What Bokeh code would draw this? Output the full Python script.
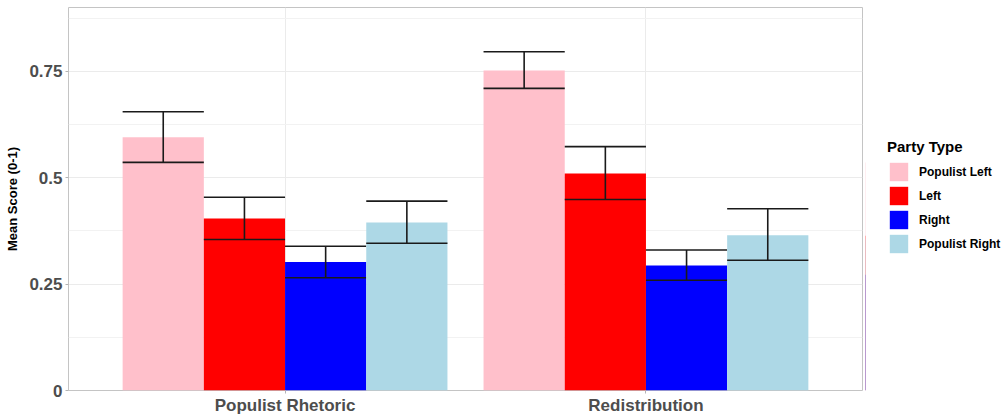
from bokeh.plotting import figure
from bokeh.layouts import row
from bokeh.models import Range1d, FixedTicker, Legend, LegendItem, ColumnDataSource
from bokeh.embed import file_html
from bokeh.resources import INLINE

# ---- data ----
categories = ["Populist Rhetoric", "Redistribution"]
parties = ["Populist Left", "Left", "Right", "Populist Right"]
colors = ["#FFC0CB", "#FF0000", "#0000FF", "#ADD8E6"]
means = {
    "Populist Left":  [0.595, 0.752],
    "Left":           [0.404, 0.510],
    "Right":          [0.302, 0.294],
    "Populist Right": [0.395, 0.365],
}
lower = {
    "Populist Left":  [0.536, 0.710],
    "Left":           [0.355, 0.449],
    "Right":          [0.265, 0.259],
    "Populist Right": [0.346, 0.306],
}
upper = {
    "Populist Left":  [0.655, 0.796],
    "Left":           [0.454, 0.573],
    "Right":          [0.339, 0.330],
    "Populist Right": [0.445, 0.427],
}
y_ticks = [0, 0.25, 0.5, 0.75]
y_tick_labels = ["0", "0.25", "0.5", "0.75"]

FONT = "Liberation Sans"
bar_w = 0.9 / len(parties)

p = figure(width=865, height=417, output_backend="svg", toolbar_location=None,
           x_range=Range1d(0.4, 2.6), y_range=Range1d(0, 0.9),
           min_border_left=68, min_border_top=7, min_border_bottom=26, min_border_right=3)
p.background_fill_color = "white"
p.border_fill_color = "white"
p.outline_line_color = "#C4C4C4"
p.outline_line_width = 1

for j, party in enumerate(parties):
    xs = [i + 1 + (j - (len(parties) - 1) / 2) * bar_w for i in range(len(categories))]
    src = ColumnDataSource(dict(x=xs, top=means[party], lo=lower[party], hi=upper[party],
                                x0=[x - bar_w / 2 for x in xs], x1=[x + bar_w / 2 for x in xs]))
    p.vbar(x="x", top="top", bottom=0, width=bar_w, source=src,
           fill_color=colors[j], line_color=None)
    p.segment(x0="x", y0="lo", x1="x", y1="hi", source=src, line_color="#1a1a1a", line_width=1.6)
    p.segment(x0="x0", y0="lo", x1="x1", y1="lo", source=src, line_color="#1a1a1a", line_width=1.6)
    p.segment(x0="x0", y0="hi", x1="x1", y1="hi", source=src, line_color="#1a1a1a", line_width=1.6)

# axes
p.xaxis.ticker = FixedTicker(ticks=[i + 1 for i in range(len(categories))])
p.xaxis.major_label_overrides = {i + 1: c for i, c in enumerate(categories)}
p.yaxis.ticker = FixedTicker(ticks=y_ticks,
                             minor_ticks=[0.125, 0.375, 0.625, 0.875])
p.yaxis.major_label_overrides = dict(zip(y_ticks, y_tick_labels))

for ax in (p.xaxis[0], p.yaxis[0]):
    ax.axis_line_color = None
    ax.major_tick_line_color = "#B3B3B3"
    ax.major_tick_in = 0
    ax.major_tick_out = 3
    ax.minor_tick_line_color = None
    ax.major_label_text_font = FONT
    ax.major_label_text_font_style = "bold"
    ax.major_label_text_color = "#4D4D4D"
    ax.major_label_text_font_size = "17px"
    ax.major_label_standoff = 2

p.yaxis.axis_label = "Mean Score (0-1)"
p.yaxis.axis_label_text_font = FONT
p.yaxis.axis_label_text_font_style = "bold"
p.yaxis.axis_label_text_font_size = "13px"
p.yaxis.axis_label_text_color = "black"
p.yaxis.axis_label_standoff = 6

p.xgrid.grid_line_color = "#EBEBEB"
p.ygrid.grid_line_color = "#EBEBEB"
p.ygrid.minor_grid_line_color = "#F2F2F2"
p.xgrid.grid_line_width = 1
p.ygrid.grid_line_width = 1

# ---- legend panel (separate figure, no axes) ----
lg = figure(width=138, height=417, output_backend="svg", toolbar_location=None,
            x_range=Range1d(0, 1), y_range=Range1d(0, 1), min_border=0,
            x_axis_type=None, y_axis_type=None)
lg.grid.visible = False
lg.outline_line_color = None
lg.background_fill_color = "white"
lg.border_fill_color = "white"

items = []
for j, party in enumerate(parties):
    # legend-only swatch renderer, kept outside the visible range
    r = lg.vbar(x=[-1], top=[means[party][0]], width=0.1, fill_color=colors[j], line_color=None)
    items.append(LegendItem(label=party, renderers=[r]))

legend = Legend(items=items, title="Party Type", location=(22, 135))
legend.title_text_font = FONT
legend.title_text_font_style = "bold"
legend.title_text_font_size = "15px"
legend.title_text_color = "black"
legend.title_standoff = 5
legend.label_text_font = FONT
legend.label_text_font_style = "bold"
legend.label_text_font_size = "12px"
legend.label_text_color = "black"
legend.glyph_width = 23
legend.glyph_height = 23
legend.label_height = 23
legend.spacing = 1
legend.label_standoff = 9
legend.padding = 0
legend.margin = 0
legend.border_line_color = None
legend.background_fill_color = None
lg.add_layout(legend, "center")

layout = row(p, lg, spacing=0)
open("out.html", "w").write(file_html(layout, INLINE))
